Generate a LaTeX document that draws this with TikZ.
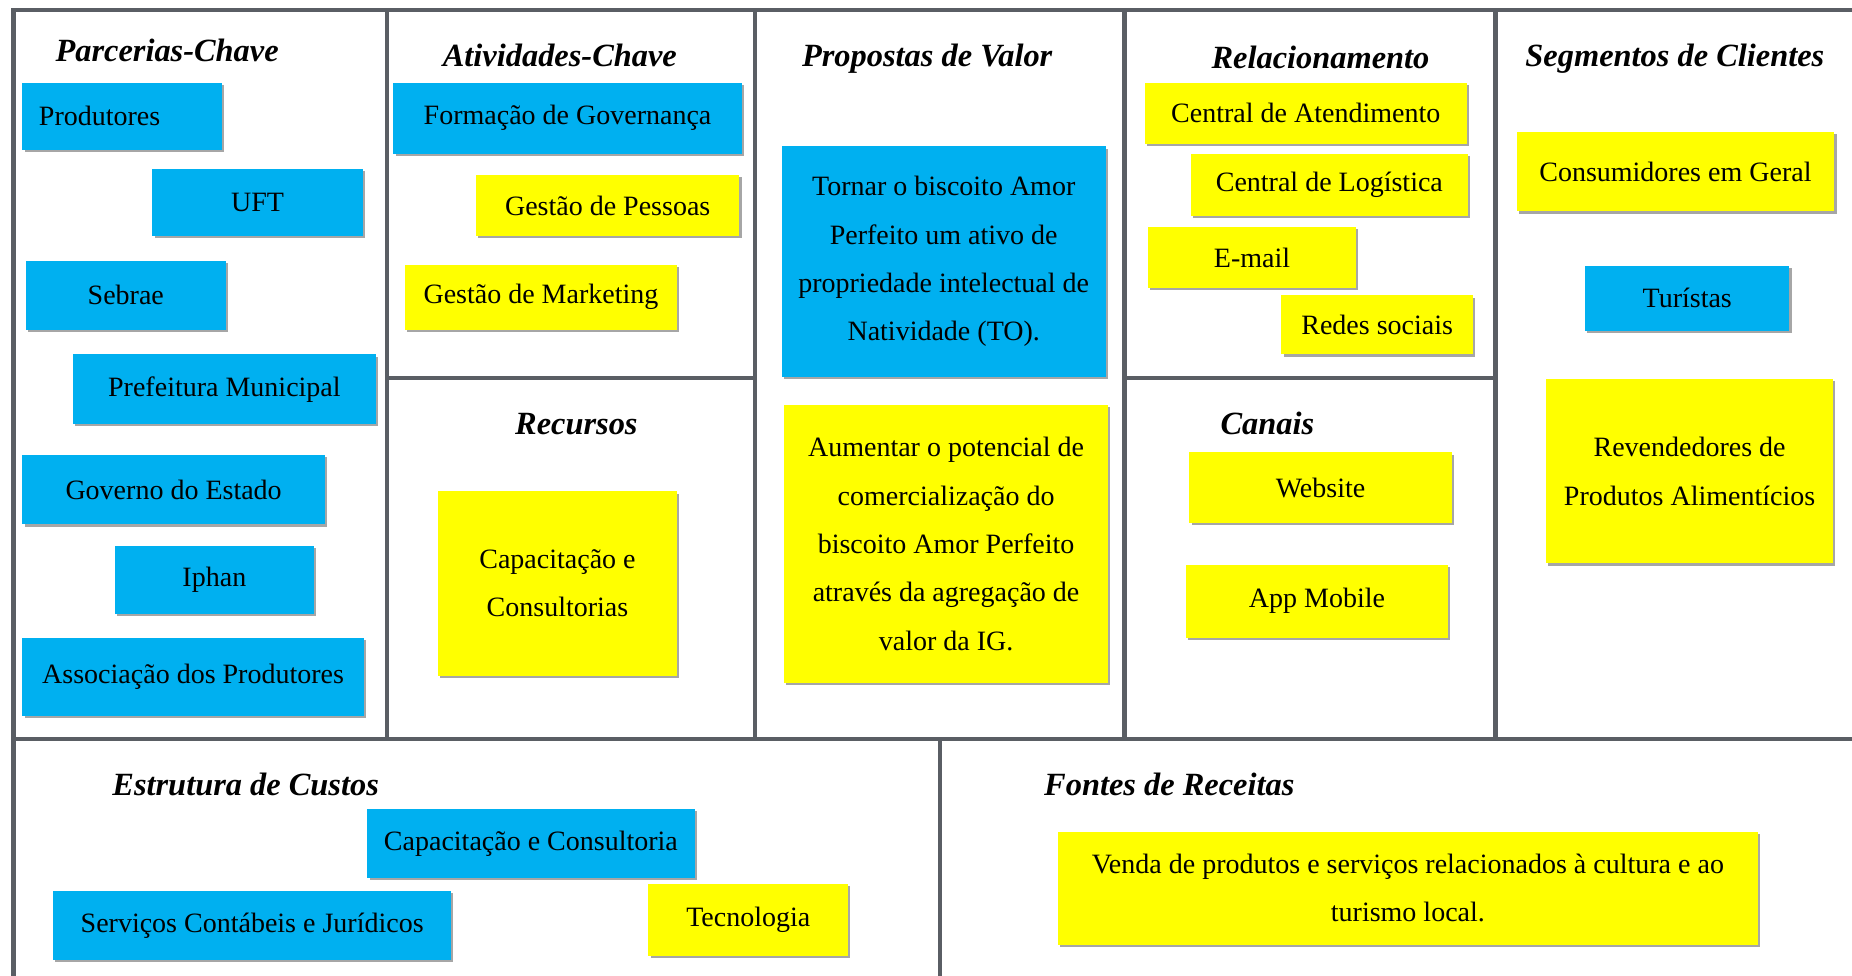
\documentclass[tikz,border=0pt]{standalone}
\usepackage{fontspec}
\setmainfont{Liberation Serif}
\usepackage{xcolor}
\usepackage{tikz}
\usetikzlibrary{positioning,shapes,shadows,calc}
\definecolor{cardblue}{RGB}{0,176,240}
\definecolor{cardyellow}{RGB}{255,255,0}
\definecolor{gridgray}{RGB}{90,94,100}

\tikzset{
  card/.style={inner sep=0pt, align=center, font=\fontsize{14}{24.2}\selectfont,
    drop shadow={shadow xshift=1.1pt, shadow yshift=-1.1pt, fill=black, opacity=.35}},
  bluecard/.style={card, fill=cardblue},
  yellowcard/.style={card, fill=cardyellow},
  blocktitle/.style={font=\fontsize{16.2}{18}\selectfont\bfseries\itshape, text height=1.5ex, text depth=.3ex},
  gridline/.style={draw=gridgray, line width=2.2pt}
}

\begin{document}
\begin{tikzpicture}[x = 0.59055pt, y = -0.59055pt]
    \useasboundingbox (0,0) rectangle (1568,826);
    % canvas grid
    \draw[gridline] (1568,8.5) -- (11.5,8.5) -- (11.5,826);
    \draw[gridline] (11.5,625.5) -- (1568,625.5);
    \draw[gridline] (327.5,8.5) -- (327.5,625.5);
    \draw[gridline] (639,8.5) -- (639,625.5);
    \draw[gridline] (952,8.5) -- (952,625.5);
    \draw[gridline] (1266,8.5) -- (1266,625.5);
    \draw[gridline] (327.5,320) -- (639,320);
    \draw[gridline] (952,320) -- (1266,320);
    \draw[gridline] (796,625.5) -- (796,826);
        % Titles
    \node[blocktitle] (tparc) at (141.5,47) {Parcerias-Chave};
    \node[blocktitle] (tativ) at (474,52) {Atividades-Chave};
    \node[blocktitle] (tprop) at (785,52) {Propostas de Valor};
    \node[blocktitle] (trel) at (1118,53) {Relacionamento};
    \node[blocktitle] (tseg) at (1418,52) {Segmentos de Clientes};
    \node[blocktitle] (trec) at (488,363) {Recursos};
    \node[blocktitle] (tcan) at (1073,363) {Canais};
    \node[blocktitle] (tcust) at (208,669) {Estrutura de Custos};
    \node[blocktitle] (treceit) at (990,669) {Fontes de Receitas};
        % Parcerias-Chave
    \node[bluecard, minimum width = 99.8pt, minimum height = 33.7pt, text width = 83.3pt, align = left, inner xsep = 8.3pt] (prod) at (103.5,98.5) {Produtores};
    \node[bluecard, minimum width = 105.1pt, minimum height = 33.7pt] (uft) at (218,171.5) {UFT};
    \node[bluecard, minimum width = 99.8pt, minimum height = 34.3pt] (sebrae) at (106.5,250) {Sebrae};
    \node[bluecard, minimum width = 151.2pt, minimum height = 34.8pt] (pref) at (190,329.5) {Prefeitura Municipal};
    \node[bluecard, minimum width = 151.2pt, minimum height = 34.8pt] (gov) at (147,414.5) {Governo do Estado};
    \node[bluecard, minimum width = 99.8pt, minimum height = 34.3pt] (iphan) at (181.5,491) {Iphan};
    \node[bluecard, minimum width = 170.7pt, minimum height = 39pt] (assoc) at (163.5,573) {Associação dos Produtores};
        % Atividades-Chave / Recursos
    \node[bluecard, minimum width = 174.2pt, minimum height = 35.4pt] (govern) at (480.5,100) {Formação de Governança};
    \node[yellowcard, minimum width = 131.7pt, minimum height = 30.7pt] (pessoas) at (514.5,174) {Gestão de Pessoas};
    \node[yellowcard, minimum width = 135.8pt, minimum height = 32.5pt] (mkt) at (458,251.5) {Gestão de Marketing};
    \node[yellowcard, minimum width = 119.3pt, minimum height = 92.1pt] (capac) at (472,494) {Capacitação e\\Consultorias};
        % Propostas de Valor
    \node[bluecard, minimum width = 161.8pt, minimum height = 115.2pt] (tornar) at (799,221.5) {Tornar o biscoito Amor\\Perfeito um ativo de\\propriedade intelectual de\\Natividade (TO).};
    \node[yellowcard, minimum width = 161.8pt, minimum height = 138.8pt] (aumentar) at (801,460.5) {Aumentar o potencial de\\comercialização do\\biscoito Amor Perfeito\\através da agregação de\\valor da IG.};
        % Relacionamento / Canais
    \node[yellowcard, minimum width = 161.2pt, minimum height = 30.7pt] (atend) at (1105.5,96) {Central de Atendimento};
    \node[yellowcard, minimum width = 138.8pt, minimum height = 31.3pt] (logist) at (1125.5,156.5) {Central de Logística};
    \node[yellowcard, minimum width = 103.9pt, minimum height = 30.7pt] (email) at (1060,218) {E-mail};
    \node[yellowcard, minimum width = 95.7pt, minimum height = 29.5pt] (redes) at (1166,275) {Redes sociais};
    \node[yellowcard, minimum width = 131.1pt, minimum height = 35.4pt] (website) at (1118,413) {Website};
    \node[yellowcard, minimum width = 131.1pt, minimum height = 36.6pt] (app) at (1115,509) {App Mobile};
        % Segmentos de Clientes
    \node[yellowcard, minimum width = 158.9pt, minimum height = 39.6pt] (consum) at (1418.5,145.5) {Consumidores em Geral};
    \node[bluecard, minimum width = 102.2pt, minimum height = 32.5pt] (turist) at (1428.5,252.5) {Turístas};
    \node[yellowcard, minimum width = 143.5pt, minimum height = 92.1pt] (revend) at (1430.5,399) {Revendedores de\\Produtos Alimentícios};
        % Estrutura de Custos / Fontes de Receitas
    \node[bluecard, minimum width = 163.6pt, minimum height = 34.3pt] (capcons) at (449.5,714) {Capacitação e Consultoria};
    \node[bluecard, minimum width = 199pt, minimum height = 34.8pt] (servicos) at (213.5,783.5) {Serviços Contábeis e Jurídicos};
    \node[yellowcard, minimum width = 99.8pt, minimum height = 36pt] (tecno) at (633.5,778.5) {Tecnologia};
    \node[yellowcard, minimum width = 349.6pt, minimum height = 56.7pt] (venda) at (1192,752) {Venda de produtos e serviços relacionados à cultura e ao\\turismo local.};
  \end{tikzpicture}
\end{document}
